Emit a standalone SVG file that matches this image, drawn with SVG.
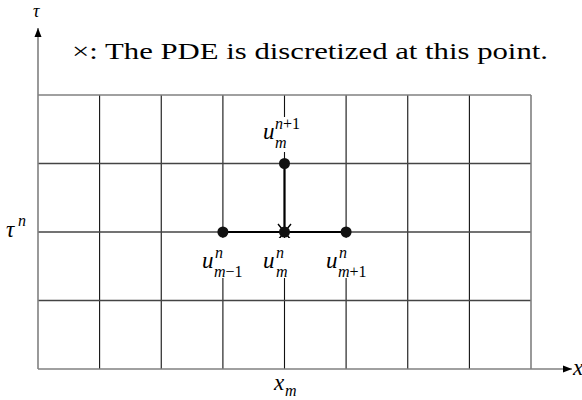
<svg xmlns="http://www.w3.org/2000/svg" width="582" height="400" viewBox="0 0 582 400">
<style>
text{font-family:"Liberation Serif","Times New Roman",serif;fill:#000}
.it{font-style:italic}
.m{font-size:23px}
.s{font-size:16px}
.axis{stroke:#808080;stroke-width:1.6;fill:none}
.vg{stroke:#111;stroke-width:1.1}
.hg{stroke:#444;stroke-width:1.3}
.thick{stroke:#000;stroke-width:2.2}
.dot{fill:#111}
.bg{fill:#fff}
</style>
<defs>
<marker id="arr" markerWidth="10" markerHeight="8" refX="9" refY="4" orient="auto" markerUnits="userSpaceOnUse">
<path d="M0,0.5 L9,4 L0,7.5 Z" fill="#000"/>
</marker>
</defs>
<g id="grid">
<line class="vg" x1="99.6" y1="95" x2="99.6" y2="369"/>
<line class="vg" x1="161.25" y1="95" x2="161.25" y2="369"/>
<line class="vg" x1="222.9" y1="95" x2="222.9" y2="369"/>
<line class="vg" x1="284.5" y1="95" x2="284.5" y2="369"/>
<line class="vg" x1="346.1" y1="95" x2="346.1" y2="369"/>
<line class="vg" x1="407.75" y1="95" x2="407.75" y2="369"/>
<line class="vg" x1="469.4" y1="95" x2="469.4" y2="369"/>
<line class="hg" x1="38" y1="163.5" x2="531" y2="163.5"/>
<line class="hg" x1="38" y1="232" x2="531" y2="232"/>
<line class="hg" x1="38" y1="300.5" x2="531" y2="300.5"/>
<line class="axis" x1="38" y1="95" x2="531" y2="95"/>
<line class="axis" x1="531" y1="95" x2="531" y2="369"/>
</g>
<g id="axes">
<line class="axis" x1="38" y1="369" x2="572" y2="369" marker-end="url(#arr)"/>
<line class="axis" x1="38" y1="369" x2="38" y2="28" marker-end="url(#arr)"/>
<text class="it" x="33" y="17" font-size="18">τ</text>
<text class="it m" x="573" y="375">x</text>
<text class="it m" x="6" y="237">τ</text>
<text class="it s" x="18" y="226">n</text>
<rect class="bg" x="272" y="376" width="28" height="23"/>
<text class="it m" x="274" y="390">x</text>
<text class="it s" x="285" y="396">m</text>
</g>
<text id="title" x="72" y="59" font-size="24" textLength="476" lengthAdjust="spacingAndGlyphs">×: The PDE is discretized at this point.</text>
<g id="connectors">
<line class="thick" x1="222.9" y1="232" x2="346.1" y2="232"/>
<line class="thick" x1="284.5" y1="232" x2="284.5" y2="163.5"/>
<path d="M278,224 L291,240 M291,224 L278,240" stroke="#000" stroke-width="1.4"/>
</g>
<g id="node-um-n1">
<circle class="dot" cx="284.5" cy="163.5" r="5.5"/>
<rect class="bg" x="262" y="117" width="46" height="35"/>
<text class="it m" x="263" y="139">u</text>
<text class="s" x="275" y="129"><tspan class="it">n</tspan>+1</text>
<text class="it s" x="275" y="148">m</text>
</g>
<g id="node-um1">
<circle class="dot" cx="222.9" cy="232" r="5.5"/>
<rect class="bg" x="200" y="238" width="52" height="40"/>
<text class="it m" x="202" y="268">u</text>
<text class="it s" x="215" y="258">n</text>
<text class="s" x="214" y="277"><tspan class="it">m</tspan>−1</text>
</g>
<g id="node-um">
<circle class="dot" cx="284.5" cy="232" r="5.5"/>
<rect class="bg" x="261" y="238" width="34" height="40"/>
<text class="it m" x="263" y="268">u</text>
<text class="it s" x="276" y="258">n</text>
<text class="it s" x="276" y="277">m</text>
</g>
<g id="node-um+1">
<circle class="dot" cx="346.1" cy="232" r="5.5"/>
<rect class="bg" x="324" y="238" width="52" height="40"/>
<text class="it m" x="326" y="268">u</text>
<text class="it s" x="339" y="258">n</text>
<text class="s" x="338" y="277"><tspan class="it">m</tspan>+1</text>
</g>
</svg>
